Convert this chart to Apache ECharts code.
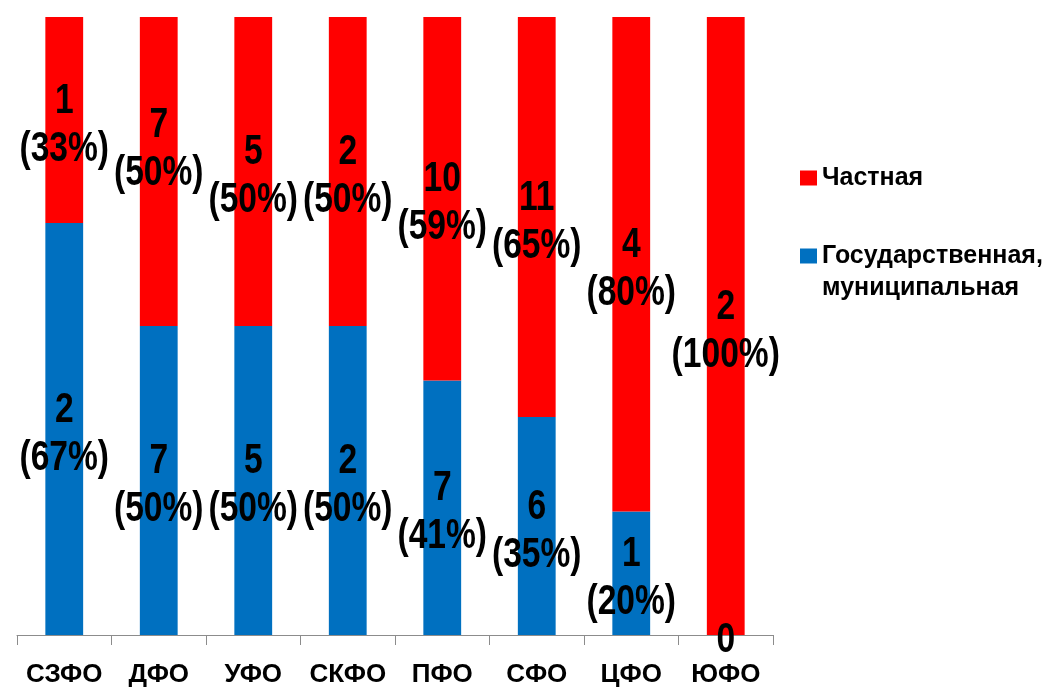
<!DOCTYPE html>
<html>
<head>
<meta charset="utf-8">
<script src="https://cdn.jsdelivr.net/npm/echarts@6/dist/echarts.min.js"></script>
<style>
  html, body { margin: 0; padding: 0; background: #fff; }
  #chart { width: 1055px; height: 691px; }
</style>
</head>
<body>
<div id="chart"></div>
<script>
// Federal districts and number of organisations by form of ownership
const districts = ['СЗФО', 'ДФО', 'УФО', 'СКФО', 'ПФО', 'СФО', 'ЦФО', 'ЮФО'];
const publicCounts = [2, 7, 5, 2, 7, 6, 1, 0];     // Государственная, муниципальная
const privateCounts = [1, 7, 5, 2, 10, 11, 4, 2];  // Частная

const NAME_PRIVATE = 'Частная';
const NAME_PUBLIC = 'Государственная, муниципальная';

const FONT = "'Liberation Sans', Arial, sans-serif";

// Layout: vertical nudge (px) for labels that were moved off their segment centre
const labelNudge = { ['ДФО|' + NAME_PRIVATE]: -27 };
const LABEL_DROP = 5;

// Share of each ownership form within a district (100% stacked)
function shares(counts) {
  return counts.map((v, i) => {
    const total = publicCounts[i] + privateCounts[i];
    return total ? (v / total) * 100 : 0;
  });
}

const publicShare = shares(publicCounts);
const privateShare = shares(privateCounts);

// One label per stacked segment: [category, segment bottom, segment top, count, share, series]
const segmentLabels = [];
districts.forEach((d, i) => {
  segmentLabels.push([i, 0, publicShare[i], publicCounts[i], publicShare[i], NAME_PUBLIC]);
  segmentLabels.push([i, publicShare[i], publicShare[i] + privateShare[i], privateCounts[i], privateShare[i], NAME_PRIVATE]);
});

function renderSegmentLabel(params, api) {
  const row = segmentLabels[params.dataIndex];
  const i = row[0];
  const mid = (row[1] + row[2]) / 2;
  const count = row[3];
  const pt = api.coord([i, mid]);
  const nudge = labelNudge[districts[i] + '|' + row[5]] || 0;
  const text = count === 0 ? '0' : count + '\n(' + Math.round(row[4]) + '%)';
  return {
    type: 'text',
    x: pt[0],
    y: pt[1] + LABEL_DROP + nudge,
    scaleX: 0.8,
    style: {
      text: text,
      x: 0,
      y: 0,
      align: 'center',
      verticalAlign: 'middle',
      fill: '#000',
      font: 'bold 42px ' + FONT,
      lineHeight: 48
    }
  };
}

const chart = echarts.init(document.getElementById('chart'), null, { renderer: 'canvas' });

const legendText = { fontFamily: FONT, fontWeight: 'bold', fontSize: 25, color: '#000', lineHeight: 32 };

chart.setOption({
  animation: false,
  backgroundColor: '#fff',
  grid: { left: 17, right: 282, top: 17, bottom: 56, containLabel: false },
  legend: [
    {
      data: [NAME_PRIVATE],
      orient: 'vertical',
      left: 795,
      top: 157,
      itemWidth: 17,
      itemHeight: 15,
      icon: 'rect',
      textStyle: legendText
    },
    {
      data: [NAME_PUBLIC],
      orient: 'vertical',
      left: 795,
      top: 203,
      itemWidth: 17,
      itemHeight: 15,
      icon: 'rect',
      // leading blank line keeps the marker level with the first line of the name
      formatter: name => '\n' + name.replace(', ', ',\n'),
      textStyle: legendText
    }
  ],
  xAxis: {
    type: 'category',
    data: districts,
    boundaryGap: true,
    axisLine: { show: true, lineStyle: { color: '#8c8c8c', width: 1 } },
    axisTick: { show: true, alignWithLabel: false, length: 10, lineStyle: { color: '#8c8c8c' } },
    axisLabel: { color: '#000', fontFamily: FONT, fontWeight: 'bold', fontSize: 26, margin: 27, interval: 0 }
  },
  yAxis: {
    type: 'value',
    min: 0,
    max: 100,
    show: false,
    splitLine: { show: false }
  },
  series: [
    {
      name: NAME_PUBLIC,
      type: 'bar',
      stack: 'share',
      barWidth: '40%',
      itemStyle: { color: '#0070C0' },
      data: publicShare
    },
    {
      name: NAME_PRIVATE,
      type: 'bar',
      stack: 'share',
      barWidth: '40%',
      itemStyle: { color: '#FF0000' },
      data: privateShare
    },
    {
      name: 'labels',
      type: 'custom',
      renderItem: renderSegmentLabel,
      data: segmentLabels.map(r => [r[0], r[1], r[2]]),
      z: 5,
      silent: true,
      tooltip: { show: false }
    }
  ]
});
</script>
</body>
</html>
